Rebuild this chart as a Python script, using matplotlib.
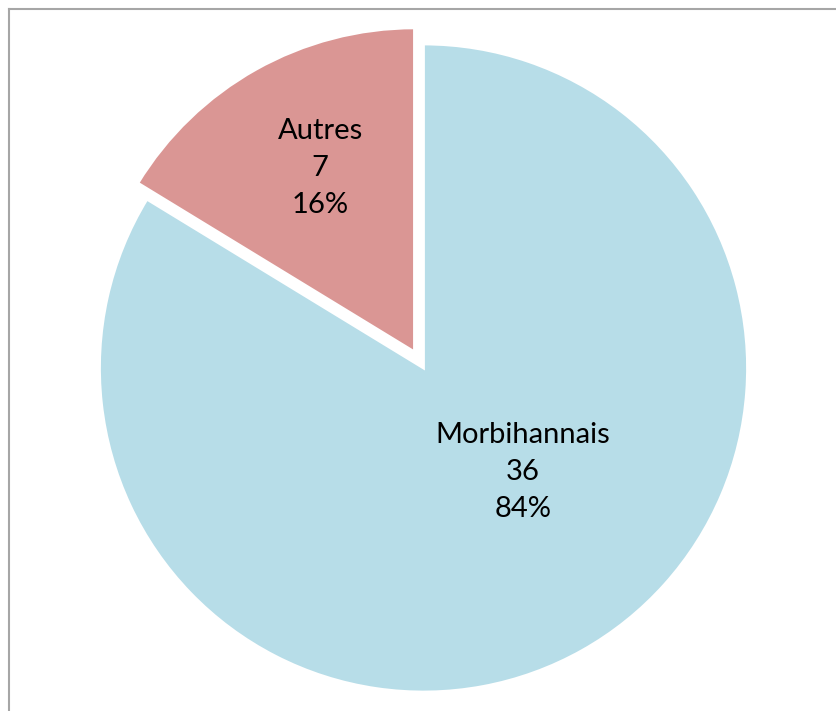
import matplotlib
matplotlib.use("Agg")
import matplotlib.pyplot as plt
from matplotlib.lines import Line2D

categories = ["Morbihannais", "Autres"]
values = [36, 7]
colors = ["#B7DDE8", "#DA9694"]
explode = [0.0, 0.057]

W, H, DPI = 836, 711, 100
fig = plt.figure(figsize=(W / DPI, H / DPI), dpi=DPI)
ax = fig.add_axes([0, 0, 1, 1])

ax.pie(values, colors=colors, explode=explode, startangle=90, counterclock=False,
       radius=1.0, wedgeprops=dict(edgecolor="white", linewidth=2))

R = 324.0
cx, cy = 423.5, 343.0  # pixel centre (from bottom-left)
ax.set_xlim(-cx / R, (W - cx) / R)
ax.set_ylim(-cy / R, (H - cy) / R)
ax.set_aspect("equal")
ax.axis("off")

total = sum(values)
label_pos = [(0.307, -0.321), (-0.319, 0.617)]
for cat, v, (x, y) in zip(categories, values, label_pos):
    pct = round(v / total * 100)
    ax.text(x, y, f"{cat}\n{v}\n{pct}%", ha="center", va="center",
            fontsize=21, family=["Lato", "DejaVu Sans"], linespacing=1.52,
            color="#000000")

# chart border (left and top visible)
fig.add_artist(Line2D([8.5 / W, 8.5 / W], [0, 1 - 8.5 / H], transform=fig.transFigure,
                      color="#A6A6A6", linewidth=1.5))
fig.add_artist(Line2D([8.5 / W, 1], [1 - 8.5 / H, 1 - 8.5 / H], transform=fig.transFigure,
                      color="#A6A6A6", linewidth=1.5))

fig.savefig("out.png", dpi=DPI)
